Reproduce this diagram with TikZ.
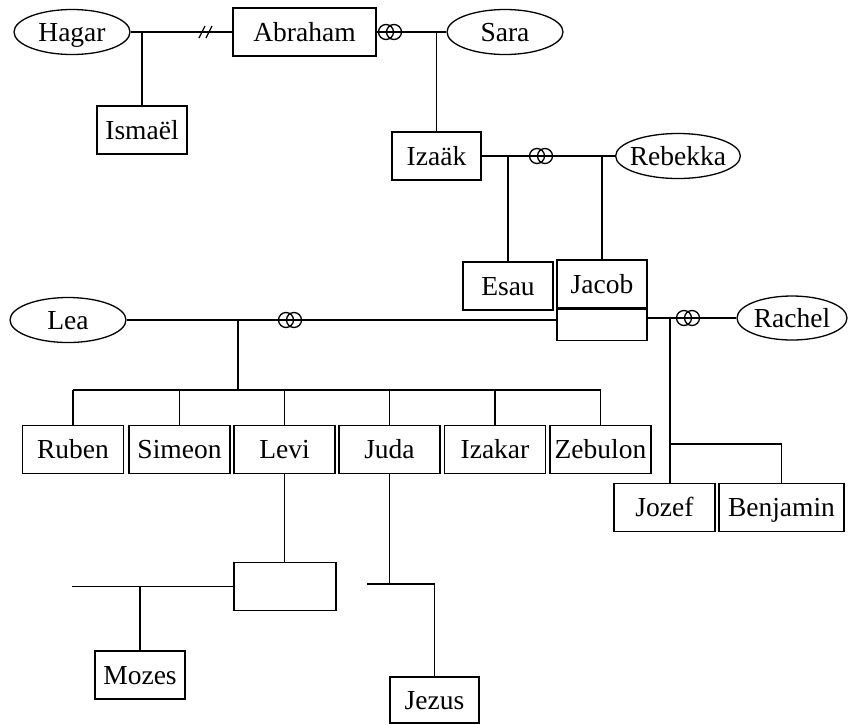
\documentclass[tikz,border=0pt]{standalone}
\usepackage{fontspec}
\setmainfont{Liberation Serif}
\usetikzlibrary{shapes.geometric, positioning}

\tikzset{
  persoon/.style={draw, rectangle, inner sep=0pt, minimum height=48pt, text height=18pt, text depth=0pt, font=\fontsize{27.5}{30}\selectfont},
  vrouw/.style={draw, ellipse, inner sep=-4pt, minimum width=116pt, minimum height=45pt, text height=18pt, text depth=0pt, font=\fontsize{27.5}{30}\selectfont},
}
\newcommand{\ringen}[1]{\draw (#1) ++(-4,0) circle (7.5pt) ++(8,0) circle (7.5pt);}

\begin{document}
\begin{tikzpicture}[x=1pt, y=-1pt, line width=1.3pt]
        \useasboundingbox (0,0) rectangle (848,724);
        % Abraham
        \node[vrouw] (hagar) at (72,32) {Hagar};
        \node[persoon, minimum width=143pt] (abraham) at (304.5,32) {Abraham};
        \node[vrouw] (sara) at (505,32) {Sara};
        \node[persoon, minimum width=90pt] (ismael) at (142,130) {Ismaël};
        \node[persoon, minimum width=89pt] (izaak) at (436.5,156) {Izaäk};
        \coordinate (scheiding) at (206,32);
        \coordinate (hagarkind) at (ismael.north |- hagar.east);
        \coordinate (sarakind) at (izaak.north |- sara.west);
        \draw (hagar.east) -- (abraham.west);
        \draw (scheiding) ++(-7,6) -- ++(6,-12) ++(1,12) -- ++(6,-12);
        \draw (hagarkind) -- (ismael.north);
        \draw (abraham.east) -- (sara.west);
        \ringen{390,32}
        \draw (sarakind) -- (izaak.north);
        % Izaak
        \node[vrouw] (rebekka) at (678,156) {Rebekka};
        \node[persoon, minimum width=90pt] (esau) at (508,286) {Esau};
        \node[persoon, minimum width=90pt] (jacob) at (602,284) {Jacob};
        \node[persoon, minimum width=90pt, minimum height=31pt, below=0pt of jacob] (jacobmate) {};
        \draw (izaak.east) -- (rebekka.west);
        \ringen{541,156}
        \draw (esau.north |- izaak.east) -- (esau.north);
        \draw (jacob.north |- izaak.east) -- (jacob.north);
        % Jacob
        \node[vrouw] (lea) at (68,320) {Lea};
        \node[vrouw, minimum width=110pt, minimum height=44pt] (rachel) at (792,318) {Rachel};
        \draw (lea.east) -- (lea.east -| jacobmate.west);
        \ringen{290,320}
        \draw (jacobmate.east |- rachel.west) -- (rachel.west);
        \ringen{688,318}
        \foreach \n/\x/\t in
        {ruben/73/Ruben,
            simeon/179.5/Simeon,
            levi/284.5/Levi,
            juda/389.5/Juda,
            izakar/495/Izakar,
            zebulon/600.5/Zebulon
        }
        {
            \node[persoon, minimum width=101pt] (\n) at (\x,449.5) {\t};
        };
        \coordinate (leakind) at (238,390);
        \draw (leakind |- lea.east) -- (leakind);
        \draw (ruben.north |- leakind) -- (zebulon.north |- leakind);
        \foreach \n in {ruben,simeon,levi,juda,izakar,zebulon}
        {
            \draw (\n.north |- leakind) -- (\n.north);
        };
        \node[persoon, minimum width=101pt] (jozef) at (664.5,507.5) {Jozef};
        \node[persoon, minimum width=125pt] (benjamin) at (781.5,507.5) {Benjamin};
        \coordinate (rachelkind) at (670,318);
        \coordinate (benjaminsplit) at (670,444);
        \draw (rachelkind) -- (rachelkind |- jozef.north);
        \draw (benjaminsplit) -| (benjamin.north);
        % Levi en Juda
        \node[persoon, minimum width=102pt] (levikind) at (285,586.5) {};
        \node[persoon, minimum width=90pt] (mozes) at (140,675) {Mozes};
        \node[persoon, minimum width=89pt, minimum height=46pt] (jezus) at (434.5,700) {Jezus};
        \coordinate (levilinks) at (72,586.5);
        \coordinate (judakind) at (389.5,584);
        \coordinate (judalinks) at (367,584);
        \draw (levi.south) -- (levi.south |- levikind.north);
        \draw (levikind.west) -- (levilinks);
        \draw (mozes.north |- levilinks) -- (mozes.north);
        \draw (juda.south) -- (judakind);
        \draw (judalinks) -| (jezus.north);
\end{tikzpicture}
\end{document}
